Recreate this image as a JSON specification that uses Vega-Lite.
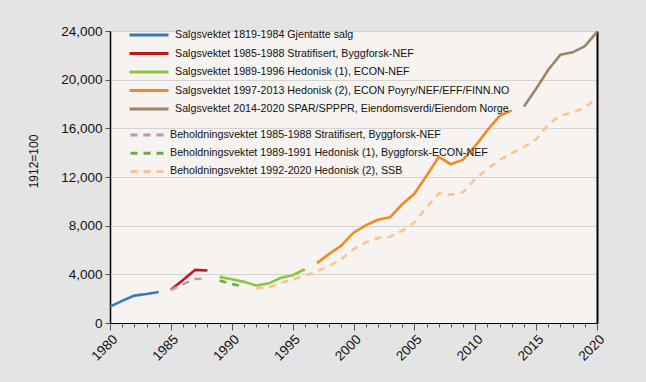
{
  "$schema": "https://vega.github.io/schema/vega-lite/v6.json",
  "width": 487,
  "height": 292,
  "autosize": {"type": "none"},
  "padding": {"left": 110, "top": 31, "right": 49, "bottom": 59},
  "background": "#e4e4e4",
  "config": {
    "view": {"stroke": null, "fill": "#f6f3f0"},
    "font": "Liberation Sans",
    "axis": {"labelColor": "#111", "titleColor": "#111", "labelFont": "Liberation Sans", "titleFont": "Liberation Sans"},
    "legend": {"labelFont": "Liberation Sans"}
  },
  "data": {"values": [
    {"series": "Salgsvektet 1819-1984 Gjentatte salg", "kind": "solid", "year": 1980, "value": 1350},
    {"series": "Salgsvektet 1819-1984 Gjentatte salg", "kind": "solid", "year": 1981, "value": 1820},
    {"series": "Salgsvektet 1819-1984 Gjentatte salg", "kind": "solid", "year": 1982, "value": 2250},
    {"series": "Salgsvektet 1819-1984 Gjentatte salg", "kind": "solid", "year": 1983, "value": 2380},
    {"series": "Salgsvektet 1819-1984 Gjentatte salg", "kind": "solid", "year": 1984, "value": 2550},
    {"series": "Salgsvektet 1985-1988 Stratifisert, Byggforsk-NEF", "kind": "solid", "year": 1985, "value": 2730},
    {"series": "Salgsvektet 1985-1988 Stratifisert, Byggforsk-NEF", "kind": "solid", "year": 1986, "value": 3530},
    {"series": "Salgsvektet 1985-1988 Stratifisert, Byggforsk-NEF", "kind": "solid", "year": 1987, "value": 4370},
    {"series": "Salgsvektet 1985-1988 Stratifisert, Byggforsk-NEF", "kind": "solid", "year": 1988, "value": 4320},
    {"series": "Salgsvektet 1989-1996 Hedonisk (1), ECON-NEF", "kind": "solid", "year": 1989, "value": 3790},
    {"series": "Salgsvektet 1989-1996 Hedonisk (1), ECON-NEF", "kind": "solid", "year": 1990, "value": 3600},
    {"series": "Salgsvektet 1989-1996 Hedonisk (1), ECON-NEF", "kind": "solid", "year": 1991, "value": 3380},
    {"series": "Salgsvektet 1989-1996 Hedonisk (1), ECON-NEF", "kind": "solid", "year": 1992, "value": 3080},
    {"series": "Salgsvektet 1989-1996 Hedonisk (1), ECON-NEF", "kind": "solid", "year": 1993, "value": 3240},
    {"series": "Salgsvektet 1989-1996 Hedonisk (1), ECON-NEF", "kind": "solid", "year": 1994, "value": 3700},
    {"series": "Salgsvektet 1989-1996 Hedonisk (1), ECON-NEF", "kind": "solid", "year": 1995, "value": 3930},
    {"series": "Salgsvektet 1989-1996 Hedonisk (1), ECON-NEF", "kind": "solid", "year": 1996, "value": 4420},
    {"series": "Salgsvektet 1997-2013 Hedonisk (2), ECON Poyry/NEF/EFF/FINN.NO", "kind": "solid", "year": 1997, "value": 4920},
    {"series": "Salgsvektet 1997-2013 Hedonisk (2), ECON Poyry/NEF/EFF/FINN.NO", "kind": "solid", "year": 1998, "value": 5680},
    {"series": "Salgsvektet 1997-2013 Hedonisk (2), ECON Poyry/NEF/EFF/FINN.NO", "kind": "solid", "year": 1999, "value": 6370},
    {"series": "Salgsvektet 1997-2013 Hedonisk (2), ECON Poyry/NEF/EFF/FINN.NO", "kind": "solid", "year": 2000, "value": 7420},
    {"series": "Salgsvektet 1997-2013 Hedonisk (2), ECON Poyry/NEF/EFF/FINN.NO", "kind": "solid", "year": 2001, "value": 8030},
    {"series": "Salgsvektet 1997-2013 Hedonisk (2), ECON Poyry/NEF/EFF/FINN.NO", "kind": "solid", "year": 2002, "value": 8480},
    {"series": "Salgsvektet 1997-2013 Hedonisk (2), ECON Poyry/NEF/EFF/FINN.NO", "kind": "solid", "year": 2003, "value": 8680},
    {"series": "Salgsvektet 1997-2013 Hedonisk (2), ECON Poyry/NEF/EFF/FINN.NO", "kind": "solid", "year": 2004, "value": 9760},
    {"series": "Salgsvektet 1997-2013 Hedonisk (2), ECON Poyry/NEF/EFF/FINN.NO", "kind": "solid", "year": 2005, "value": 10620},
    {"series": "Salgsvektet 1997-2013 Hedonisk (2), ECON Poyry/NEF/EFF/FINN.NO", "kind": "solid", "year": 2006, "value": 12100},
    {"series": "Salgsvektet 1997-2013 Hedonisk (2), ECON Poyry/NEF/EFF/FINN.NO", "kind": "solid", "year": 2007, "value": 13650},
    {"series": "Salgsvektet 1997-2013 Hedonisk (2), ECON Poyry/NEF/EFF/FINN.NO", "kind": "solid", "year": 2008, "value": 13050},
    {"series": "Salgsvektet 1997-2013 Hedonisk (2), ECON Poyry/NEF/EFF/FINN.NO", "kind": "solid", "year": 2009, "value": 13420},
    {"series": "Salgsvektet 1997-2013 Hedonisk (2), ECON Poyry/NEF/EFF/FINN.NO", "kind": "solid", "year": 2010, "value": 14550},
    {"series": "Salgsvektet 1997-2013 Hedonisk (2), ECON Poyry/NEF/EFF/FINN.NO", "kind": "solid", "year": 2011, "value": 15850},
    {"series": "Salgsvektet 1997-2013 Hedonisk (2), ECON Poyry/NEF/EFF/FINN.NO", "kind": "solid", "year": 2012, "value": 17020},
    {"series": "Salgsvektet 1997-2013 Hedonisk (2), ECON Poyry/NEF/EFF/FINN.NO", "kind": "solid", "year": 2013, "value": 17480},
    {"series": "Salgsvektet 2014-2020 SPAR/SPPPR, Eiendomsverdi/Eiendom Norge", "kind": "solid", "year": 2014, "value": 17800},
    {"series": "Salgsvektet 2014-2020 SPAR/SPPPR, Eiendomsverdi/Eiendom Norge", "kind": "solid", "year": 2015, "value": 19250},
    {"series": "Salgsvektet 2014-2020 SPAR/SPPPR, Eiendomsverdi/Eiendom Norge", "kind": "solid", "year": 2016, "value": 20820},
    {"series": "Salgsvektet 2014-2020 SPAR/SPPPR, Eiendomsverdi/Eiendom Norge", "kind": "solid", "year": 2017, "value": 22060},
    {"series": "Salgsvektet 2014-2020 SPAR/SPPPR, Eiendomsverdi/Eiendom Norge", "kind": "solid", "year": 2018, "value": 22250},
    {"series": "Salgsvektet 2014-2020 SPAR/SPPPR, Eiendomsverdi/Eiendom Norge", "kind": "solid", "year": 2019, "value": 22750},
    {"series": "Salgsvektet 2014-2020 SPAR/SPPPR, Eiendomsverdi/Eiendom Norge", "kind": "solid", "year": 2020, "value": 23900},
    {"series": "Beholdningsvektet 1985-1988 Stratifisert, Byggforsk-NEF", "kind": "dashed", "year": 1985, "value": 2700},
    {"series": "Beholdningsvektet 1985-1988 Stratifisert, Byggforsk-NEF", "kind": "dashed", "year": 1986, "value": 3200},
    {"series": "Beholdningsvektet 1985-1988 Stratifisert, Byggforsk-NEF", "kind": "dashed", "year": 1987, "value": 3620},
    {"series": "Beholdningsvektet 1985-1988 Stratifisert, Byggforsk-NEF", "kind": "dashed", "year": 1988, "value": 3650},
    {"series": "Beholdningsvektet 1989-1991 Hedonisk (1), Byggforsk-ECON-NEF", "kind": "dashed", "year": 1989, "value": 3500},
    {"series": "Beholdningsvektet 1989-1991 Hedonisk (1), Byggforsk-ECON-NEF", "kind": "dashed", "year": 1990, "value": 3200},
    {"series": "Beholdningsvektet 1989-1991 Hedonisk (1), Byggforsk-ECON-NEF", "kind": "dashed", "year": 1991, "value": 3000},
    {"series": "Beholdningsvektet 1992-2020 Hedonisk (2), SSB", "kind": "dashed", "year": 1992, "value": 2870},
    {"series": "Beholdningsvektet 1992-2020 Hedonisk (2), SSB", "kind": "dashed", "year": 1993, "value": 2920},
    {"series": "Beholdningsvektet 1992-2020 Hedonisk (2), SSB", "kind": "dashed", "year": 1994, "value": 3300},
    {"series": "Beholdningsvektet 1992-2020 Hedonisk (2), SSB", "kind": "dashed", "year": 1995, "value": 3570},
    {"series": "Beholdningsvektet 1992-2020 Hedonisk (2), SSB", "kind": "dashed", "year": 1996, "value": 3900},
    {"series": "Beholdningsvektet 1992-2020 Hedonisk (2), SSB", "kind": "dashed", "year": 1997, "value": 4230},
    {"series": "Beholdningsvektet 1992-2020 Hedonisk (2), SSB", "kind": "dashed", "year": 1998, "value": 4700},
    {"series": "Beholdningsvektet 1992-2020 Hedonisk (2), SSB", "kind": "dashed", "year": 1999, "value": 5250},
    {"series": "Beholdningsvektet 1992-2020 Hedonisk (2), SSB", "kind": "dashed", "year": 2000, "value": 6070},
    {"series": "Beholdningsvektet 1992-2020 Hedonisk (2), SSB", "kind": "dashed", "year": 2001, "value": 6620},
    {"series": "Beholdningsvektet 1992-2020 Hedonisk (2), SSB", "kind": "dashed", "year": 2002, "value": 6980},
    {"series": "Beholdningsvektet 1992-2020 Hedonisk (2), SSB", "kind": "dashed", "year": 2003, "value": 7090},
    {"series": "Beholdningsvektet 1992-2020 Hedonisk (2), SSB", "kind": "dashed", "year": 2004, "value": 7580},
    {"series": "Beholdningsvektet 1992-2020 Hedonisk (2), SSB", "kind": "dashed", "year": 2005, "value": 8270},
    {"series": "Beholdningsvektet 1992-2020 Hedonisk (2), SSB", "kind": "dashed", "year": 2006, "value": 9500},
    {"series": "Beholdningsvektet 1992-2020 Hedonisk (2), SSB", "kind": "dashed", "year": 2007, "value": 10660},
    {"series": "Beholdningsvektet 1992-2020 Hedonisk (2), SSB", "kind": "dashed", "year": 2008, "value": 10550},
    {"series": "Beholdningsvektet 1992-2020 Hedonisk (2), SSB", "kind": "dashed", "year": 2009, "value": 10740},
    {"series": "Beholdningsvektet 1992-2020 Hedonisk (2), SSB", "kind": "dashed", "year": 2010, "value": 11840},
    {"series": "Beholdningsvektet 1992-2020 Hedonisk (2), SSB", "kind": "dashed", "year": 2011, "value": 12660},
    {"series": "Beholdningsvektet 1992-2020 Hedonisk (2), SSB", "kind": "dashed", "year": 2012, "value": 13400},
    {"series": "Beholdningsvektet 1992-2020 Hedonisk (2), SSB", "kind": "dashed", "year": 2013, "value": 13960},
    {"series": "Beholdningsvektet 1992-2020 Hedonisk (2), SSB", "kind": "dashed", "year": 2014, "value": 14450},
    {"series": "Beholdningsvektet 1992-2020 Hedonisk (2), SSB", "kind": "dashed", "year": 2015, "value": 15100},
    {"series": "Beholdningsvektet 1992-2020 Hedonisk (2), SSB", "kind": "dashed", "year": 2016, "value": 16300},
    {"series": "Beholdningsvektet 1992-2020 Hedonisk (2), SSB", "kind": "dashed", "year": 2017, "value": 17060},
    {"series": "Beholdningsvektet 1992-2020 Hedonisk (2), SSB", "kind": "dashed", "year": 2018, "value": 17300},
    {"series": "Beholdningsvektet 1992-2020 Hedonisk (2), SSB", "kind": "dashed", "year": 2019, "value": 17700},
    {"series": "Beholdningsvektet 1992-2020 Hedonisk (2), SSB", "kind": "dashed", "year": 2020, "value": 18500}
  ]},
  "encoding": {
    "x": {
      "field": "year", "type": "quantitative",
      "scale": {"domain": [1980, 2020], "nice": false, "zero": false},
      "axis": {
        "values": [1980,1981,1982,1983,1984,1985,1986,1987,1988,1989,1990,1991,1992,1993,1994,1995,1996,1997,1998,1999,2000,2001,2002,2003,2004,2005,2006,2007,2008,2009,2010,2011,2012,2013,2014,2015,2016,2017,2018,2019,2020],
        "format": "d",
        "labelExpr": "datum.value % 5 === 0 ? datum.label : ''",
        "labelOverlap": false,
        "labelAngle": -45,
        "labelFontSize": 13.5,
        "labelPadding": 2,
        "tickSize": {"condition": {"test": "datum.value % 5 === 0", "value": 7}, "value": 4},
        "tickColor": "#555",
        "domainColor": "#000",
        "domainWidth": 1.2,
        "grid": false,
        "title": null
      }
    }
  },
  "layer": [
    {
      "transform": [{"filter": "datum.kind === 'solid'"}],
      "mark": {"type": "line", "strokeWidth": 2.6},
      "encoding": {
        "y": {
          "field": "value", "type": "quantitative",
          "scale": {"domain": [0, 24000], "nice": false},
          "axis": {
            "values": [0, 4000, 8000, 12000, 16000, 20000, 24000],
            "format": ",d",
            "labelFontSize": 13.5,
            "labelPadding": 3,
            "tickSize": 5,
            "tickColor": "#555",
            "domainColor": "#000",
            "domainWidth": 1.5,
            "grid": true,
            "gridColor": "#d4d4d4",
            "gridWidth": 1.2,
            "title": "1912=100",
            "titleFontSize": 12,
            "titleFontWeight": "normal",
            "titleAngle": -90,
            "titleAlign": "center",
            "titleBaseline": "middle",
            "titleX": -77,
            "titleY": 130
          }
        },
        "color": {
          "field": "series", "type": "nominal",
          "scale": {
            "domain": [
              "Salgsvektet 1819-1984 Gjentatte salg",
              "Salgsvektet 1985-1988 Stratifisert, Byggforsk-NEF",
              "Salgsvektet 1989-1996 Hedonisk (1), ECON-NEF",
              "Salgsvektet 1997-2013 Hedonisk (2), ECON Poyry/NEF/EFF/FINN.NO",
              "Salgsvektet 2014-2020 SPAR/SPPPR, Eiendomsverdi/Eiendom Norge"
            ],
            "range": ["#3a78b8", "#c01818", "#8cc63e", "#f28a22", "#a08468"]
          },
          "legend": {
            "orient": "none", "legendX": 18, "legendY": -3,
            "title": null, "padding": 0,
            "symbolType": "stroke", "symbolSize": 1521, "symbolStrokeWidth": 3,
            "clipHeight": 14, "rowPadding": 4.5,
            "labelFontSize": 10.7, "labelOffset": 5, "labelColor": "#111", "labelLimit": 400
          }
        }
      }
    },
    {
      "transform": [{"filter": "datum.kind === 'dashed'"}],
      "mark": {"type": "line", "strokeWidth": 2.6, "strokeDash": [7, 6]},
      "encoding": {
        "y": {
          "field": "value", "type": "quantitative",
          "scale": {"domain": [0, 24000], "nice": false},
          "axis": {
            "orient": "right", "labels": false, "ticks": false, "grid": false,
            "domainColor": "#000", "domainWidth": 2, "title": null
          }
        },
        "color": {
          "field": "series", "type": "nominal",
          "scale": {
            "domain": [
              "Beholdningsvektet 1985-1988 Stratifisert, Byggforsk-NEF",
              "Beholdningsvektet 1989-1991 Hedonisk (1), Byggforsk-ECON-NEF",
              "Beholdningsvektet 1992-2020 Hedonisk (2), SSB"
            ],
            "range": ["#bb98a2", "#6caa4e", "#fac492"]
          },
          "legend": {
            "orient": "none", "legendX": 19, "legendY": 97,
            "title": null, "padding": 0,
            "symbolType": "stroke", "symbolSize": 1156, "symbolStrokeWidth": 3, "symbolDash": [7, 6],
            "clipHeight": 14, "rowPadding": 4.2,
            "labelFontSize": 10.7, "labelOffset": 4, "labelColor": "#111", "labelLimit": 400
          }
        }
      }
    }
  ],
  "resolve": {"scale": {"color": "independent", "y": "independent"}}
}
